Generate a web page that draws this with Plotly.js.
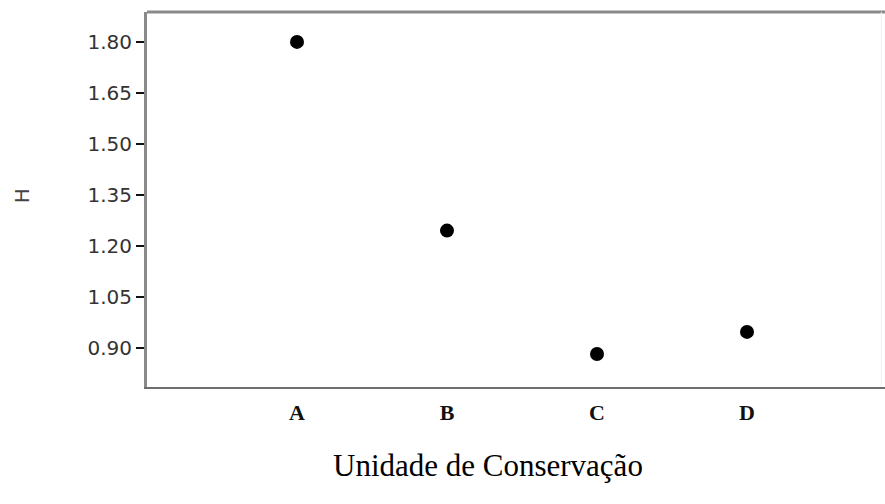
<!DOCTYPE html>
<html>
<head>
<meta charset="utf-8">
<script src="https://cdn.plot.ly/plotly-3.0.1.min.js"></script>
<style>html,body{margin:0;padding:0;background:#fff;}#chart{width:885px;height:504px;}</style>
</head>
<body>
<div id="chart"></div>
<script>
// Data
const categories = ["A", "B", "C", "D"];
const hValues = [1.80, 1.245, 0.882, 0.947];
const yTickValues = [0.90, 1.05, 1.20, 1.35, 1.50, 1.65, 1.80];
const yTickLabels = ["0.90", "1.05", "1.20", "1.35", "1.50", "1.65", "1.80"];
const xTitle = "Unidade de Conservação";
const yTitle = "H";

const trace = {
  type: "scatter",
  mode: "markers",
  x: categories,
  y: hValues,
  marker: {color: "#000", size: 14, line: {width: 0}},
  hoverinfo: "x+y"
};

const layout = {
  width: 885,
  height: 504,
  margin: {l: 147, r: 0, t: 12, b: 117},
  paper_bgcolor: "#fff",
  plot_bgcolor: "#fff",
  showlegend: false,
  xaxis: {
    type: "category",
    range: [-1.0, 3.92],
    showgrid: false,
    zeroline: false,
    showline: true,
    linecolor: "#6e6e6e",
    linewidth: 2,
    ticks: "outside",
    ticklen: 5,
    tickcolor: "rgba(0,0,0,0)",
    tickfont: {family: "Liberation Serif, Times New Roman, serif", size: 22, color: "#111"},
    tickprefix: "<b>",
    ticksuffix: "</b>"
  },
  yaxis: {
    range: [0.785, 1.888],
    tickvals: yTickValues,
    ticktext: yTickLabels,
    showgrid: false,
    zeroline: false,
    showline: true,
    linecolor: "#8a8a8a",
    linewidth: 3,
    ticks: "outside",
    ticklen: 8,
    tickwidth: 2,
    tickcolor: "#111",
    tickfont: {family: "DejaVu Sans, Verdana, sans-serif", size: 20, color: "#333"}
  },
  shapes: [
    {type: "line", xref: "paper", yref: "paper", x0: 0, x1: 1, y0: 1, y1: 1,
     line: {color: "#8a8a8a", width: 3}},
    {type: "line", xref: "paper", yref: "paper", x0: 0.995, x1: 0.995, y0: 0, y1: 1,
     line: {color: "#f0f0f0", width: 1}}
  ],
  annotations: [
    {text: xTitle, xref: "paper", yref: "paper", x: 0.462, y: -0.21, yanchor: "middle",
     xanchor: "center", showarrow: false,
     font: {family: "Liberation Serif, Times New Roman, serif", size: 31, color: "#000"}},
    {text: yTitle, xref: "paper", yref: "paper", x: -0.17, y: 0.51, xanchor: "center",
     yanchor: "middle", textangle: -90, showarrow: false,
     font: {family: "DejaVu Sans, sans-serif", size: 20, color: "#444"}}
  ]
};

Plotly.newPlot("chart", [trace], layout, {displayModeBar: false, staticPlot: false});
</script>
</body>
</html>
